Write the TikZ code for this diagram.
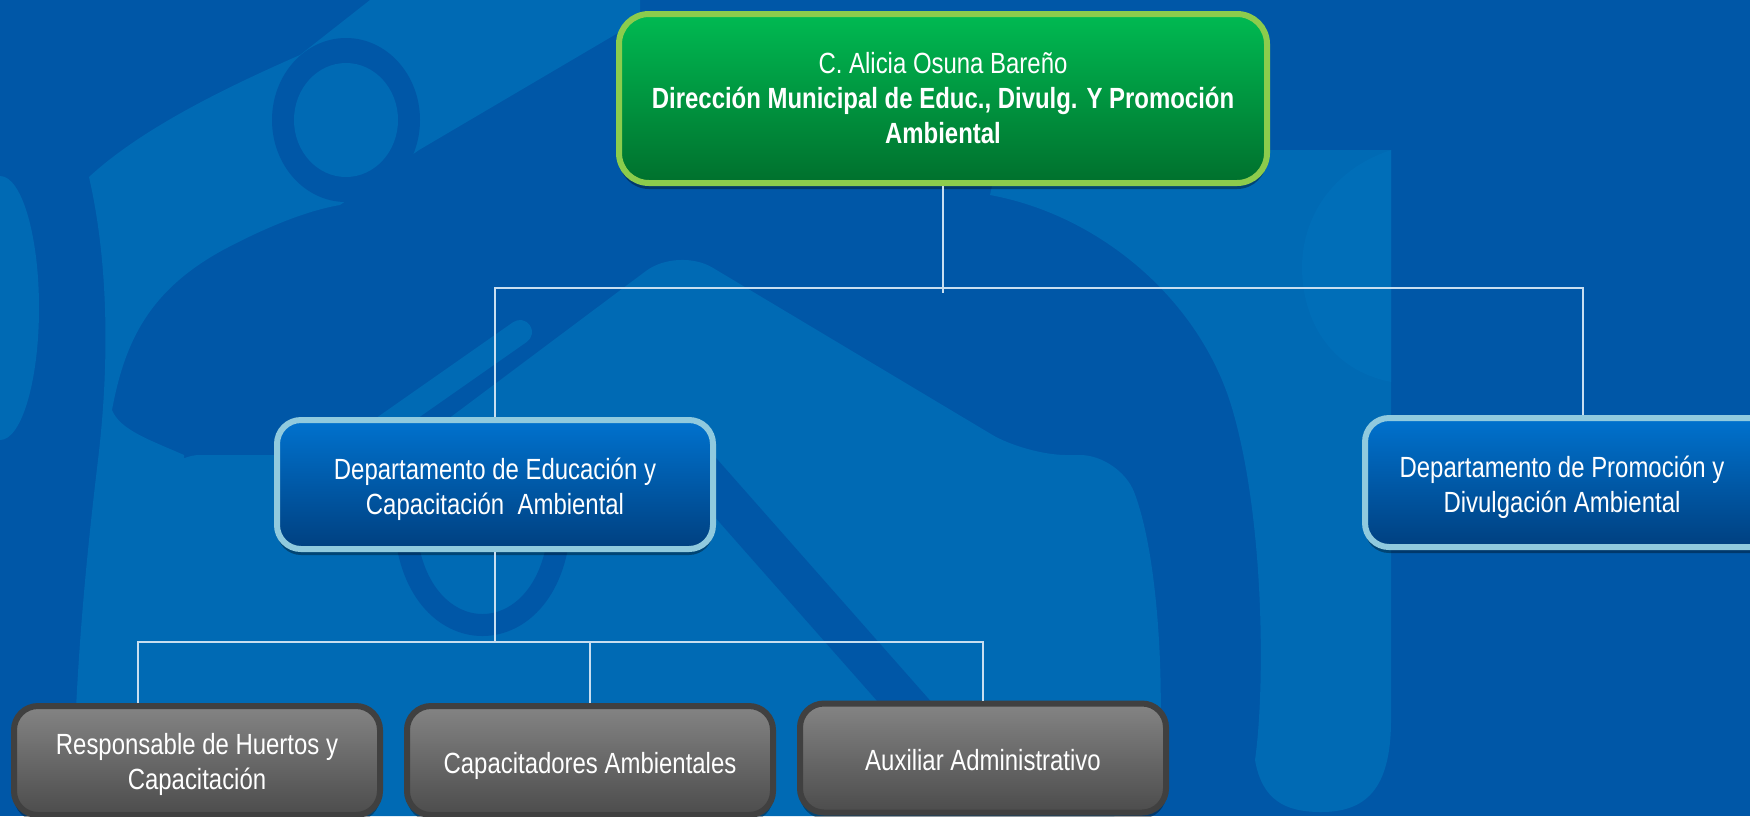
\documentclass[tikz,border=0pt]{standalone}
\usepackage{fontspec}
\setmainfont{Liberation Sans}[FakeStretch=0.82]
\usetikzlibrary{shadows}
\definecolor{bgdark}{RGB}{0,87,167}
\definecolor{bglight}{RGB}{0,106,180}
\definecolor{bglighter}{RGB}{0,110,184}
\definecolor{grtop}{RGB}{0,186,82}
\definecolor{grbot}{RGB}{0,112,45}
\definecolor{grbord}{RGB}{140,204,76}
\definecolor{bltop}{RGB}{0,114,206}
\definecolor{blbot}{RGB}{0,64,128}
\definecolor{blbord}{RGB}{144,202,222}
\definecolor{gytop}{RGB}{132,132,132}
\definecolor{gybot}{RGB}{76,76,76}
\definecolor{gybord}{RGB}{64,64,64}
\definecolor{conncol}{RGB}{200,222,240}
\begin{document}
\begin{tikzpicture}[x=0.5pt,y=-0.5pt,
  box/.style={draw, line width=3pt, rounded corners=12pt, inner sep=0pt,
    drop shadow={shadow xshift=0pt, shadow yshift=-3pt, opacity=0.35, fill=black}},
  topbox/.style={box, rounded corners=15pt, draw=grbord, top color=grtop, bottom color=grbot,
    minimum width=324pt, minimum height=84.5pt},
  deptbox/.style={box, draw=blbord, top color=bltop, bottom color=blbot,
    minimum width=218pt, minimum height=64.5pt},
  staffbox/.style={box, draw=gybord, top color=gytop, bottom color=gybot,
    minimum width=183pt, minimum height=54.5pt},
  boxtext/.style={align=center, text=white, font=\fontsize{14.6pt}{17.5pt}\selectfont, inner sep=0pt},
  conn/.style={draw=conncol, line width=1pt}]
\useasboundingbox (0,0) rectangle (1750,816);
\begin{scope}
\clip (0,0) rectangle (1750,816);
% background
\fill[bgdark] (0,0) rectangle (1750,816);
\fill[bglight] (0,308) ellipse [x radius=39, y radius=132];
\fill[bglight] (370,0) -- (300,55) .. controls (220,90) and (140,130) .. (89,177)
  .. controls (108,260) and (110,360) .. (98,460) .. controls (86,560) and (74,680) .. (73,816)
  -- (184,816) -- (184,455) .. controls (150,440) and (120,430) .. (112,410)
  .. controls (125,340) and (150,290) .. (223,250) .. controls (270,225) and (310,210) .. (340,205)
  -- (419,150) -- (640,20) -- (640,0) -- cycle;
\fill[bgdark] (346,120) ellipse [x radius=74, y radius=82];
\fill[bglight] (346,120) ellipse [x radius=52, y radius=57];
\fill[bglight, rounded corners=20pt] (160,455) -- (400,455) -- (678,247) -- (1026,455) -- (1120,455)
  .. controls (1160,560) and (1165,700) .. (1154,816) -- (160,816) -- cycle;
\draw[bgdark, line width=11pt] (405,520) .. controls (410,660) and (555,660) .. (560,520);
\draw[bgdark, line width=20pt, line cap=round] (700,470) -- (925,725);
\draw[bglight, line width=12pt, line cap=round] (520,332) -- (380,430);
\fill[bglight] (990,195) .. controls (1100,215) and (1200,300) .. (1232,408)
  .. controls (1265,520) and (1265,690) .. (1255,760)
  .. controls (1262,800) and (1285,812) .. (1321,812)
  .. controls (1365,812) and (1391,790) .. (1391,720) -- (1391,150) -- (1000,150) -- cycle;
\fill[bglighter] (1391,150) .. controls (1330,170) and (1302,220) .. (1302,267)
  .. controls (1302,320) and (1330,370) .. (1391,382) -- cycle;
% boxes
\node[topbox] (dir) at (943,98.5) {};
\node[boxtext] (dirlabel) at (943,98.5) {C. Alicia Osuna Bareño\\\textbf{Dirección Municipal de Educ., Divulg. Y Promoción}\\\textbf{Ambiental}};
\node[deptbox] (ldept) at (495,484.5) {};
\node[boxtext] (ldeptlabel) at (495,489) {Departamento de Educación y\\Capacitación\ \ Ambiental};
\node[deptbox] (rdept) at (1583,482.5) {};
\node[boxtext] (rdeptlabel) at (1562,487.5) {Departamento de Promoción y\\Divulgación Ambiental};
\node[staffbox] (huertos) at (197,760.5) {};
\node[boxtext] (huertoslabel) at (197,764.5) {Responsable de Huertos y\\Capacitación};
\node[staffbox] (capac) at (590,760.5) {};
\node[boxtext] (capaclabel) at (590,765.5) {Capacitadores Ambientales};
\node[staffbox] (aux) at (983,758) {};
\node[boxtext] (auxlabel) at (983,760) {Auxiliar Administrativo};
% connectors
\coordinate (bus1) at (943,288);
\coordinate (tick) at (943,293);
\coordinate (bus2) at (495,642);
\coordinate (hbx) at (138,0);
\draw[conn] (dir.south) -- (tick);
\draw[conn] (ldept.north) |- (bus1) -| (rdept.north);
\draw[conn] (ldept.south) -- (bus2);
\draw[conn] (huertos.north -| hbx) |- (bus2) -| (aux.north);
\draw[conn] (bus2 -| capac.north) -- (capac.north);
\end{scope}
\end{tikzpicture}
\end{document}
